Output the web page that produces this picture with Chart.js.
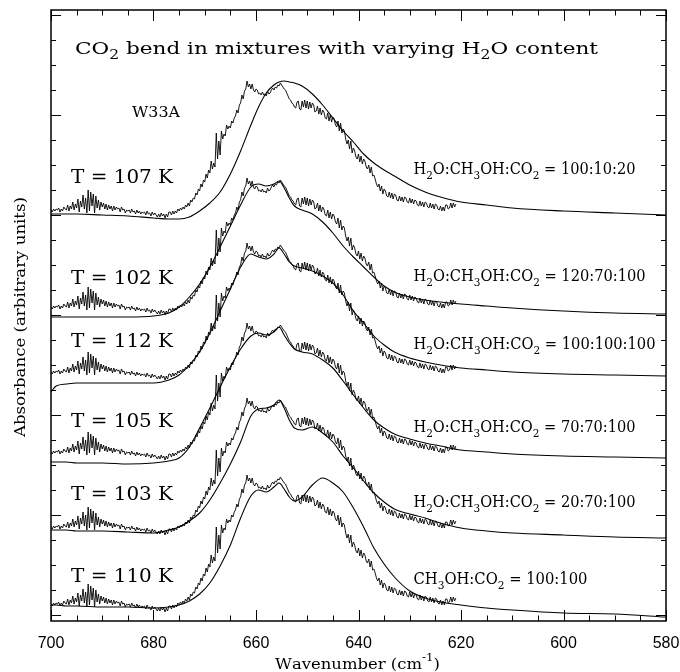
<!DOCTYPE html>
<html>
<head>
<meta charset="utf-8">
<script src="https://cdn.jsdelivr.net/npm/chart.js@4.4.1/dist/chart.umd.min.js"></script>
<style>
  html, body { margin: 0; padding: 0; background: #fff; }
  #wrap { width: 680px; height: 672px; }
</style>
</head>
<body>
<div id="wrap"><canvas id="spectra" width="680" height="672"></canvas></div>
<script>
// W33A spectrum, 700 -> 621 cm-1 every 0.25 cm-1 (height above the 700 cm-1 baseline)
// one row per cm-1
const obsStart = 700;
const obsStep = 0.25;
const w33a = [
  0.01, -0.01, 0.02, 0.00,   0.02, 0.01, 0.03, -0.01,   0.02, 0.00, 0.04, 0.02,   0.01, 0.06, 0.00, 0.05,
  0.02, 0.09, 0.01, 0.07,    0.03, 0.12, -0.01, 0.10,   0.04, 0.16, 0.02, 0.13,   -0.02, 0.21, 0.00, 0.19,
  0.05, 0.17, -0.02, 0.15,   0.03, 0.11, 0.01, 0.09,    0.04, 0.08, 0.02, 0.07,   0.01, 0.06, 0.02, 0.05,
  0.00, 0.05, 0.01, 0.04,    0.02, 0.03, -0.01, 0.04,   0.01, 0.02, -0.02, 0.01,  0.00, 0.01, -0.02, 0.02,
  -0.01, 0.00, -0.03, 0.01,  -0.02, 0.00, -0.03, -0.01, -0.02, -0.01, -0.04, 0.00, -0.03, -0.02, -0.05, -0.01,
  -0.04, -0.02, -0.04, -0.06, -0.03, -0.06, -0.02, -0.05, -0.03, -0.07, -0.03, -0.06, -0.01, -0.01, -0.04, 0.00,
  -0.03, 0.00, -0.02, 0.02,  0.00, 0.03, 0.01, 0.04,    0.02, 0.06, 0.04, 0.08,   0.05, 0.11, 0.09, 0.13,
  0.12, 0.18, 0.16, 0.22,    0.20, 0.27, 0.24, 0.31,    0.29, 0.37, 0.33, 0.41,   0.38, 0.50, 0.42, 0.48,
  0.44, 0.78, 0.52, 0.70,    0.56, 0.80, 0.72, 0.77,    0.75, 0.86, 0.82, 0.85,   0.83, 0.90, 0.88, 0.93,
  0.95, 1.01, 0.98, 1.06,    1.08, 1.16, 1.12, 1.20,    1.22, 1.30, 1.24, 1.27,   1.22, 1.27, 1.21, 1.19,
  1.22, 1.21, 1.17, 1.18,    1.16, 1.19, 1.16, 1.17,    1.15, 1.20, 1.17, 1.18,   1.21, 1.23, 1.21, 1.24,
  1.23, 1.26, 1.25, 1.28,    1.26, 1.24, 1.22, 1.21,    1.18, 1.15, 1.12, 1.11,   1.08, 1.07, 1.04, 1.03,
  1.09, 1.10, 1.02, 1.01,    1.10, 1.04, 1.11, 1.03,    1.10, 1.02, 1.09, 1.03,   1.08, 1.06, 0.99, 1.00,
  1.05, 0.97, 1.03, 0.96,    1.01, 0.99, 0.93, 0.92,    0.98, 0.90, 0.96, 0.89,   0.94, 0.92, 0.86, 0.84,
  0.90, 0.80, 0.88, 0.78,    0.82, 0.80, 0.72, 0.67,    0.71, 0.62, 0.70, 0.58,   0.63, 0.60, 0.54, 0.52,
  0.57, 0.49, 0.55, 0.47,    0.52, 0.50, 0.44, 0.42,    0.46, 0.38, 0.44, 0.35,   0.36, 0.32, 0.27, 0.24,
  0.27, 0.20, 0.25, 0.17,    0.22, 0.20, 0.15, 0.14,    0.19, 0.13, 0.18, 0.12,   0.17, 0.16, 0.11, 0.10,
  0.15, 0.10, 0.14, 0.09,    0.14, 0.13, 0.09, 0.08,    0.13, 0.08, 0.12, 0.07,   0.11, 0.10, 0.06, 0.05,
  0.10, 0.05, 0.09, 0.04,    0.09, 0.08, 0.04, 0.03,    0.08, 0.03, 0.07, 0.02,   0.07, 0.06, 0.02, 0.01,
  0.05, 0.00, 0.04, 0.00,    0.06, 0.06, 0.02, 0.03,    0.08, 0.03, 0.08, 0.04,   0.07
];

// laboratory fits, same wavenumber grid for all
const modelWn = [700, 699, 697, 695, 690, 685, 680, 677, 675, 673, 671, 669, 667, 665, 663, 661,
  659.5, 658, 656.5, 655.5, 654.5, 653.5, 652.5, 651, 649, 647, 645, 643, 641, 639, 637, 635, 633,
  630, 627, 624, 620, 615, 610, 600, 590, 580];
const fit107 = [-0.03, -0.03, -0.03, -0.03, -0.04, -0.05, -0.07, -0.08, -0.08, -0.06, 0.00, 0.08, 0.19, 0.37, 0.60, 0.86,
  1.04, 1.18, 1.26, 1.29, 1.30, 1.29, 1.28, 1.25, 1.17, 1.06, 0.93, 0.80, 0.69, 0.57, 0.48, 0.41, 0.35,
  0.26, 0.19, 0.14, 0.09, 0.06, 0.03, 0.00, -0.02, -0.04];
const fit102 = [-0.09, -0.09, -0.09, -0.09, -0.09, -0.09, -0.08, -0.05, 0.01, 0.11, 0.24, 0.41, 0.61, 0.82, 1.03, 1.21,
  1.24, 1.22, 1.24, 1.27, 1.20, 1.10, 1.02, 0.98, 0.94, 0.86, 0.75, 0.62, 0.51, 0.41, 0.31, 0.22, 0.16,
  0.11, 0.08, 0.06, 0.04, 0.02, 0.00, -0.03, -0.05, -0.06];
const fit112 = [-0.19, -0.13, -0.11, -0.10, -0.10, -0.10, -0.10, -0.07, -0.02, 0.08, 0.21, 0.40, 0.62, 0.84, 1.06, 1.19,
  1.16, 1.14, 1.19, 1.25, 1.19, 1.11, 1.07, 1.05, 1.02, 0.97, 0.90, 0.78, 0.62, 0.50, 0.37, 0.28, 0.21,
  0.15, 0.11, 0.08, 0.05, 0.03, 0.01, -0.01, -0.02, -0.03];
const fit105 = [-0.09, -0.09, -0.09, -0.10, -0.10, -0.11, -0.10, -0.08, -0.05, 0.06, 0.25, 0.45, 0.66, 0.86, 1.04, 1.17,
  1.20, 1.18, 1.21, 1.26, 1.18, 1.10, 1.04, 1.01, 0.99, 0.93, 0.85, 0.72, 0.58, 0.45, 0.33, 0.25, 0.19,
  0.14, 0.10, 0.07, 0.03, 0.01, -0.01, -0.03, -0.04, -0.05];
const fit103 = [-0.02, -0.02, -0.02, -0.03, -0.03, -0.04, -0.05, -0.02, 0.01, 0.07, 0.15, 0.28, 0.45, 0.64, 0.86, 1.12,
  1.19, 1.20, 1.23, 1.28, 1.20, 1.08, 1.00, 0.98, 1.01, 0.95, 0.86, 0.72, 0.60, 0.47, 0.35, 0.26, 0.19,
  0.14, 0.10, 0.05, 0.00, -0.03, -0.05, -0.07, -0.09, -0.10];
const fit110 = [0.00, 0.00, -0.01, -0.01, -0.02, -0.02, -0.03, -0.02, 0.00, 0.04, 0.11, 0.22, 0.39, 0.60, 0.87, 1.09,
  1.15, 1.13, 1.18, 1.22, 1.16, 1.08, 1.04, 1.08, 1.20, 1.27, 1.22, 1.13, 0.97, 0.78, 0.57, 0.41, 0.28,
  0.14, 0.07, 0.03, 0.00, -0.03, -0.05, -0.08, -0.09, -0.12];

// panels from top to bottom
const fits = [fit107, fit102, fit112, fit105, fit103, fit110];
const panelOffset = [4.04, 3.07, 2.42, 1.62, 0.87, 0.10];
const tempLabels = ["T = 107 K", "T = 102 K", "T = 112 K", "T = 105 K", "T = 103 K", "T = 110 K"];
const mixLabels = [
  "H_2O:CH_3OH:CO_2 = 100:10:20",
  "H_2O:CH_3OH:CO_2 = 120:70:100",
  "H_2O:CH_3OH:CO_2 = 100:100:100",
  "H_2O:CH_3OH:CO_2 = 70:70:100",
  "H_2O:CH_3OH:CO_2 = 20:70:100",
  "CH_3OH:CO_2 = 100:100"
];
const xTicks = [700, 680, 660, 640, 620, 600, 580];

const datasets = [];
fits.forEach((fit, i) => {
  datasets.push({
    data: w33a.map((v, k) => ({ x: obsStart - k * obsStep, y: v + panelOffset[i] })),
    borderColor: "#000",
    borderWidth: 0.9,
    pointRadius: 0,
    tension: 0
  });
  datasets.push({
    data: fit.map((v, k) => ({ x: modelWn[k], y: v + panelOffset[i] })),
    borderColor: "#000",
    borderWidth: 1.1,
    pointRadius: 0,
    cubicInterpolationMode: "monotone"
  });
});

const serif = '"DejaVu Serif", serif';

// text with _x subscripts and ^{..} superscripts, squeezed/stretched to a given width
function drawRich(ctx, text, x, y, size, width) {
  const glyphs = [];
  let i = 0;
  const push = (ch, kind) => {
    const s = kind ? size * 0.72 : size;
    const dy = kind === 1 ? size * 0.3 : kind === 2 ? -size * 0.55 : 0;
    ctx.font = s + "px " + serif;
    glyphs.push({ ch, font: ctx.font, dy, w: ctx.measureText(ch).width });
  };
  while (i < text.length) {
    const c = text[i];
    if (c === "_") { push(text[i + 1], 1); i += 2; }
    else if (c === "^") {
      const end = text.indexOf("}", i);
      for (const ch of text.slice(i + 2, end)) push(ch, 2);
      i = end + 1;
    } else { push(c, 0); i++; }
  }
  const natural = glyphs.reduce((a, g) => a + g.w, 0);
  ctx.save();
  ctx.translate(x, y);
  ctx.scale(width / natural, 1);
  let cx = 0;
  for (const g of glyphs) {
    ctx.font = g.font;
    ctx.fillText(g.ch, cx, g.dy);
    cx += g.w;
  }
  ctx.restore();
}

const frame = {
  id: "frame",
  afterDraw(chart) {
    const { ctx, chartArea: a, scales: { x, y } } = chart;
    ctx.save();
    ctx.strokeStyle = "#000";
    ctx.lineWidth = 1.5;
    ctx.strokeRect(a.left, a.top, a.right - a.left, a.bottom - a.top);

    ctx.lineWidth = 1;
    ctx.beginPath();
    for (let w = 580; w <= 700; w += 5) {
      const px = Math.round(x.getPixelForValue(w)) + 0.5;
      const len = w % 20 === 0 ? 11 : 5.5;
      ctx.moveTo(px, a.bottom); ctx.lineTo(px, a.bottom - len);
      ctx.moveTo(px, a.top); ctx.lineTo(px, a.top + len);
    }
    for (let k = 0; k <= 24; k++) {
      const py = Math.round(y.getPixelForValue(k * 0.25)) + 0.5;
      const len = k % 4 === 0 ? 10 : 5;
      ctx.moveTo(a.left, py); ctx.lineTo(a.left + len, py);
      ctx.moveTo(a.right, py); ctx.lineTo(a.right - len, py);
    }
    ctx.stroke();

    ctx.fillStyle = "#000";
    ctx.textBaseline = "alphabetic";

    // x tick labels from the scale
    ctx.font = '16px "Liberation Sans", Arial, sans-serif';
    ctx.textAlign = "center";
    xTicks.forEach((v) => ctx.fillText(String(v), x.getPixelForValue(v), a.bottom + 26.5));
    ctx.textAlign = "left";

    drawRich(ctx, "CO_2 bend in mixtures with varying H_2O content", 75, 54, 17, 523);
    drawRich(ctx, "W33A", 132, 116.7, 14, 48);

    const tBase = [183.3, 284.3, 346.7, 426.7, 500, 581.7];
    tempLabels.forEach((t, i) => drawRich(ctx, t, 71, tBase[i], 18, 102));

    const mBase = [174, 280.7, 349, 432.3, 506.7, 584.3];
    const mWidth = [222, 232, 242, 222, 222, 174];
    mixLabels.forEach((t, i) => drawRich(ctx, t, 413.5, mBase[i], 16, mWidth[i]));

    drawRich(ctx, "Wavenumber (cm^{-1})", 275, 669, 15, 165);

    ctx.translate(25, 317);
    ctx.rotate(-Math.PI / 2);
    drawRich(ctx, "Absorbance (arbitrary units)", -120, 0, 14, 240);
    ctx.restore();
  }
};

new Chart(document.getElementById("spectra"), {
  type: "line",
  data: { datasets },
  options: {
    responsive: false,
    animation: false,
    layout: { padding: { left: 51, right: 14, top: 10, bottom: 51 } },
    plugins: { legend: { display: false }, tooltip: { enabled: false } },
    scales: {
      x: { type: "linear", min: 580, max: 700, reverse: true, display: false },
      y: { type: "linear", min: -0.06, max: 6.05, display: false }
    }
  },
  plugins: [frame]
});
</script>
</body>
</html>
